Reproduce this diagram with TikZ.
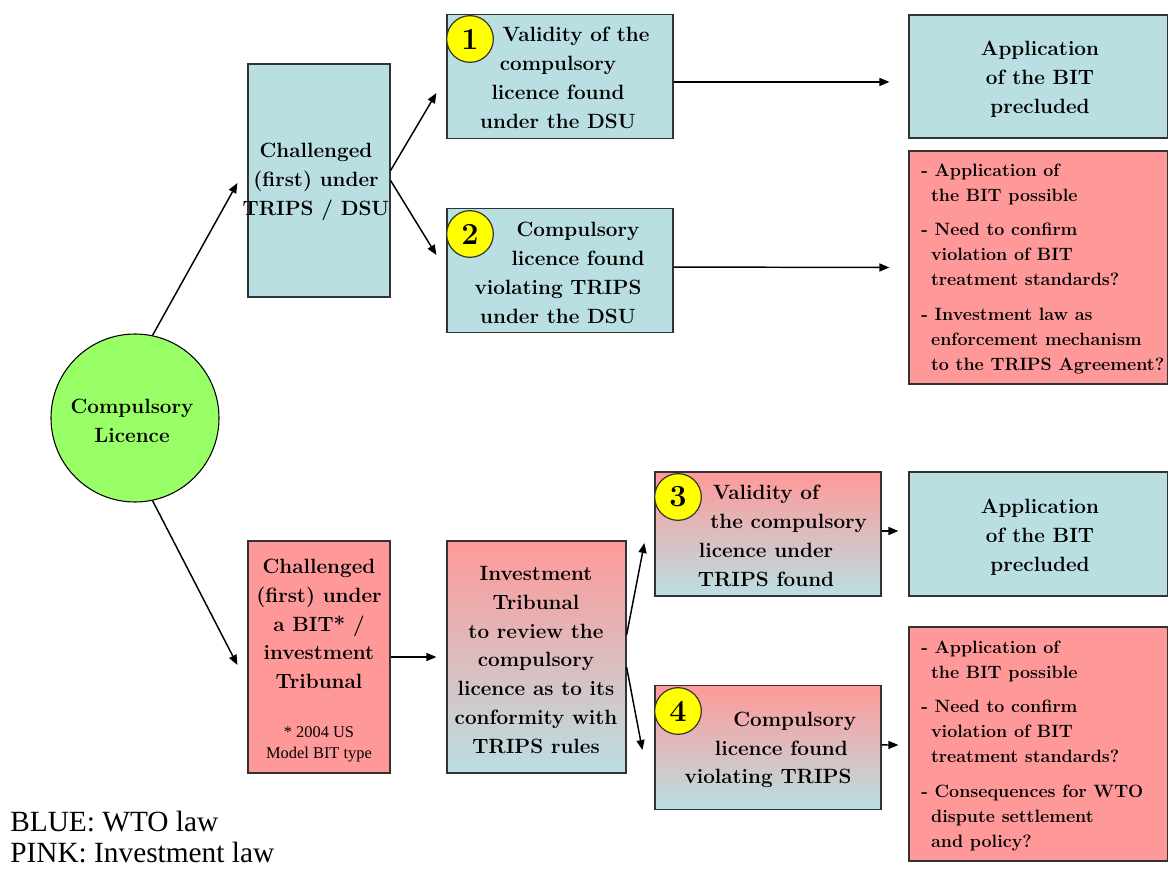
\documentclass[tikz,border=0pt]{standalone}
\usepackage{fontspec}
\newfontfamily\tnr{Liberation Serif}
\usetikzlibrary{arrows.meta}
\definecolor{wtoblue}{RGB}{185,223,226}
\definecolor{invpink}{RGB}{255,153,153}
\definecolor{limegreen}{RGB}{153,255,102}
\definecolor{numyellow}{RGB}{255,255,0}
\tikzset{
  box/.style={draw=black!80, line width=0.9pt, rectangle, inner sep=0pt},
  bluebox/.style={box, fill=wtoblue},
  pinkbox/.style={box, fill=invpink},
  gradbox/.style={box, top color=invpink, bottom color=wtoblue},
  smallbox/.style={minimum width=169.5pt, minimum height=92.5pt},
  widebox/.style={minimum width=194.25pt},
  txt/.style={align=center, inner sep=0pt, font=\fontsize{15.5}{21.6}\selectfont\bfseries},
  sidetxt/.style={align=left, inner sep=0pt, anchor=west, font=\fontsize{13.4}{18.75}\selectfont\bfseries},
  numcirc/.style={circle, draw=black!80, line width=0.9pt, fill=numyellow, minimum size=35pt, inner sep=0pt, font=\fontsize{23}{23}\selectfont\bfseries},
  arr/.style={line width=1.1pt, -{Triangle[length=7.5pt,width=6pt]}},
  legend/.style={anchor=west, inner sep=0pt, font=\fontsize{22}{26}\selectfont\tnr}
}
\begin{document}
\begin{tikzpicture}[x=0.75pt,y=-0.75pt]
\useasboundingbox (0,0) rectangle (1168,874);

% legend
\node[legend] (leg1) at (10,822) {BLUE: WTO law};
\node[legend] (leg2) at (10,853) {PINK: Investment law};

% central circle
\node[circle, draw=black, line width=0.8pt, fill=limegreen, minimum size=126pt, inner sep=0pt] (circ) at (135,418) {};
\node[txt] (circtxt) at (132,421) {Compulsory\\Licence};

% upper branch
\node[bluebox, minimum width=106.5pt, minimum height=174.75pt] (boxA) at (319,180.5) {};
\node[txt] (boxAtxt) at (316,182) {Challenged\\(first) under\\TRIPS / DSU};

\node[bluebox, smallbox] (box1) at (560,76.5) {};
\node[txt] (box1txt) at (558,78) {\hspace*{27pt}Validity of the\\compulsory\\licence found\\under the DSU};
\node[numcirc] (n1) at (470,39) {1};

\node[bluebox, smallbox] (box2) at (560,270.5) {};
\node[txt] (box2txt) at (558,273) {\hspace*{30pt}Compulsory\\\hspace*{30pt}licence found\\violating TRIPS\\under the DSU};
\node[numcirc] (n2) at (470,234) {2};

\node[bluebox, widebox, minimum height=92.25pt] (app1) at (1038.5,76.5) {};
\node[txt] (app1txt) at (1040,79) {Application\\of the BIT\\precluded};

\node[pinkbox, widebox, minimum height=174.75pt] (pink1) at (1038.5,267.5) {};
\node[sidetxt] (pink1txt) at (921,269) {- Application of\\\hspace*{0.55em}the BIT possible\\[7pt]- Need to confirm\\\hspace*{0.55em}violation of BIT\\\hspace*{0.55em}treatment standards?\\[7pt]- Investment law as\\\hspace*{0.55em}enforcement mechanism\\\hspace*{0.55em}to the TRIPS Agreement?};

% lower branch
\node[pinkbox, minimum width=106.5pt, minimum height=174pt] (boxB) at (319,657) {};
\node[txt] (boxBtxt) at (319,624) {Challenged\\(first) under\\a BIT* /\\investment\\Tribunal};
\node[align=center, inner sep=0pt, font=\fontsize{12.3}{15.75}\selectfont\tnr] (boxBnote) at (319,744) {* 2004 US\\Model BIT type};

\node[gradbox, minimum width=134.25pt, minimum height=174pt] (trib) at (536.5,657) {};
\node[txt] (tribtxt) at (536,660) {Investment\\Tribunal\\to review the\\compulsory\\licence as to its\\conformity with\\TRIPS rules};

\node[gradbox, minimum width=169.5pt, minimum height=93pt] (box3) at (768,534) {};
\node[txt] (box3txt) at (766,536) {Validity of\\\hspace*{34pt}the compulsory\\licence under\\TRIPS found};
\node[numcirc] (n3) at (678,497) {3};

\node[gradbox, smallbox] (box4) at (768,747.5) {};
\node[txt] (box4txt) at (768,750) {\hspace*{40pt}Compulsory\\\hspace*{20pt}licence found\\violating TRIPS};
\node[numcirc] (n4) at (678,711) {4};

\node[bluebox, widebox, minimum height=93pt] (app2) at (1038.5,534) {};
\node[txt] (app2txt) at (1040,537) {Application\\of the BIT\\precluded};

\node[pinkbox, widebox, minimum height=175.5pt] (pink2) at (1038.5,744) {};
\node[sidetxt] (pink2txt) at (921,746) {- Application of\\\hspace*{0.55em}the BIT possible\\[7pt]- Need to confirm\\\hspace*{0.55em}violation of BIT\\\hspace*{0.55em}treatment standards?\\[7pt]- Consequences for WTO\\\hspace*{0.55em}dispute settlement\\\hspace*{0.55em}and policy?};

% connectors
\draw[arr] (circ.78) -- ([xshift=-7.5pt,yshift=-1.9pt]boxA.west);
\draw[arr] (circ.-78) -- ([xshift=-7.5pt,yshift=-6pt]boxB.west);
\draw[arr] ([yshift=7.5pt]boxA.east) -- ([xshift=-7.5pt,yshift=-12.4pt]box1.west);
\draw[arr] (boxA.east) -- ([xshift=-7.5pt,yshift=11.6pt]box2.west);
\draw[arr] ([yshift=-4.1pt]box1.east) -- ([xshift=-14.25pt,yshift=-4.1pt]app1.west);
\draw[arr] ([yshift=2.6pt]box2.east) -- ([xshift=-14.25pt]pink1.west);
\draw[arr] (boxB.east) -- ([xshift=-7.5pt]trib.west);
\draw[arr] ([yshift=16.5pt]trib.east) -- ([xshift=-7.5pt,yshift=-6.75pt]box3.west);
\draw[arr] ([yshift=-7.5pt]trib.east) -- ([xshift=-9pt,yshift=-1.9pt]box4.west);
\draw[arr] ([yshift=2.25pt]box3.east) -- ([xshift=-7.5pt,yshift=2.25pt]app2.west);
\draw[arr] ([yshift=1.9pt]box4.east) -- ([xshift=-7.5pt,yshift=-0.75pt]pink2.west);
\end{tikzpicture}
\end{document}
